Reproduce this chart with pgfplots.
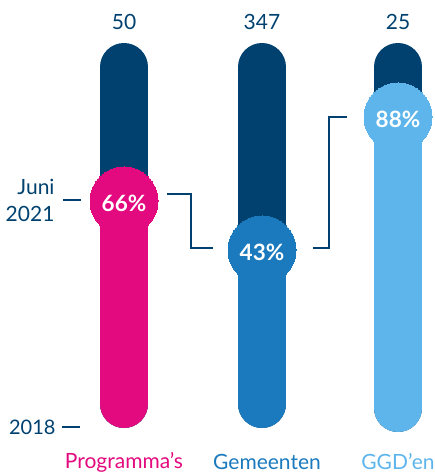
\documentclass[border=0pt]{standalone}
\usepackage{pgfplots}
\pgfplotsset{compat=1.18}
\usepackage{fontspec}
\setmainfont{Lato}
\definecolor{navy}{HTML}{00416F}
\definecolor{magenta}{HTML}{E3097E}
\definecolor{midblue}{HTML}{1A7ABD}
\definecolor{lightblue}{HTML}{5DB5EC}
\begin{document}
\begin{tikzpicture}
\begin{axis}[
  width=435pt, height=474pt, scale only axis,
  xmin=0, xmax=435, ymin=0, ymax=474,
  hide axis, clip=false, clip mode=individual,
]
% background (total) bars
\addplot[navy, line width=48pt, line cap=round] coordinates {(124,407) (124,70)};
\addplot[navy, line width=48pt, line cap=round] coordinates {(262,407) (262,70)};
\addplot[navy, line width=48pt, line cap=round] coordinates {(398,407) (398,66)};
% progress bars
\addplot[magenta, line width=48pt, line cap=round] coordinates {(124,273) (124,70)};
\addplot[midblue, line width=48pt, line cap=round] coordinates {(262,224) (262,70)};
\addplot[lightblue, line width=48pt, line cap=round] coordinates {(398,357) (398,66)};
% connectors
\addplot[navy, line width=1.5pt] coordinates {(167,280) (191,280) (191,226) (213,226)};
\addplot[navy, line width=1.5pt] coordinates {(313,226) (329,226) (329,357) (347,357)};
% circles
\addplot[only marks, mark=*, mark size=34pt, magenta, mark options={draw=magenta, fill=magenta, line width=0pt}] coordinates {(124,273)};
\addplot[only marks, mark=*, mark size=34pt, midblue, mark options={draw=midblue, fill=midblue, line width=0pt}] coordinates {(262,224)};
\addplot[only marks, mark=*, mark size=34pt, lightblue, mark options={draw=lightblue, fill=lightblue, line width=0pt}] coordinates {(398,357)};
\node[text=white, font=\fontsize{22.5}{24}\selectfont\bfseries] at (axis cs:124,271) {66\%};
\node[text=white, font=\fontsize{22.5}{24}\selectfont\bfseries] at (axis cs:262,222) {43\%};
\node[text=white, font=\fontsize{22.5}{24}\selectfont\bfseries] at (axis cs:398,355) {88\%};
% year ticks
\addplot[navy, line width=1.5pt] coordinates {(63,274) (81,274)};
\addplot[navy, line width=1.5pt] coordinates {(62,47) (80,47)};
% texts
\node[navy, font=\fontsize{21}{27}\selectfont, anchor=east, align=right] at (axis cs:58,274) {Juni\\2021};
\node[navy, font=\fontsize{20}{24}\selectfont, anchor=east] at (axis cs:59,47) {2018};
\node[navy, font=\fontsize{21}{24}\selectfont] at (axis cs:124,452) {50};
\node[navy, font=\fontsize{21}{24}\selectfont] at (axis cs:262,452) {347};
\node[navy, font=\fontsize{21}{24}\selectfont] at (axis cs:398,452) {25};
\node[magenta, font=\fontsize{21}{24}\selectfont] at (axis cs:124,12) {Programma’s};
\node[midblue, font=\fontsize{21}{24}\selectfont] at (axis cs:267,12) {Gemeenten};
\node[lightblue, font=\fontsize{21}{24}\selectfont] at (axis cs:398,12) {GGD’en};
\end{axis}
\pgfresetboundingbox
\path[use as bounding box] (0,0) rectangle (435pt,474pt);
\end{tikzpicture}
\end{document}
